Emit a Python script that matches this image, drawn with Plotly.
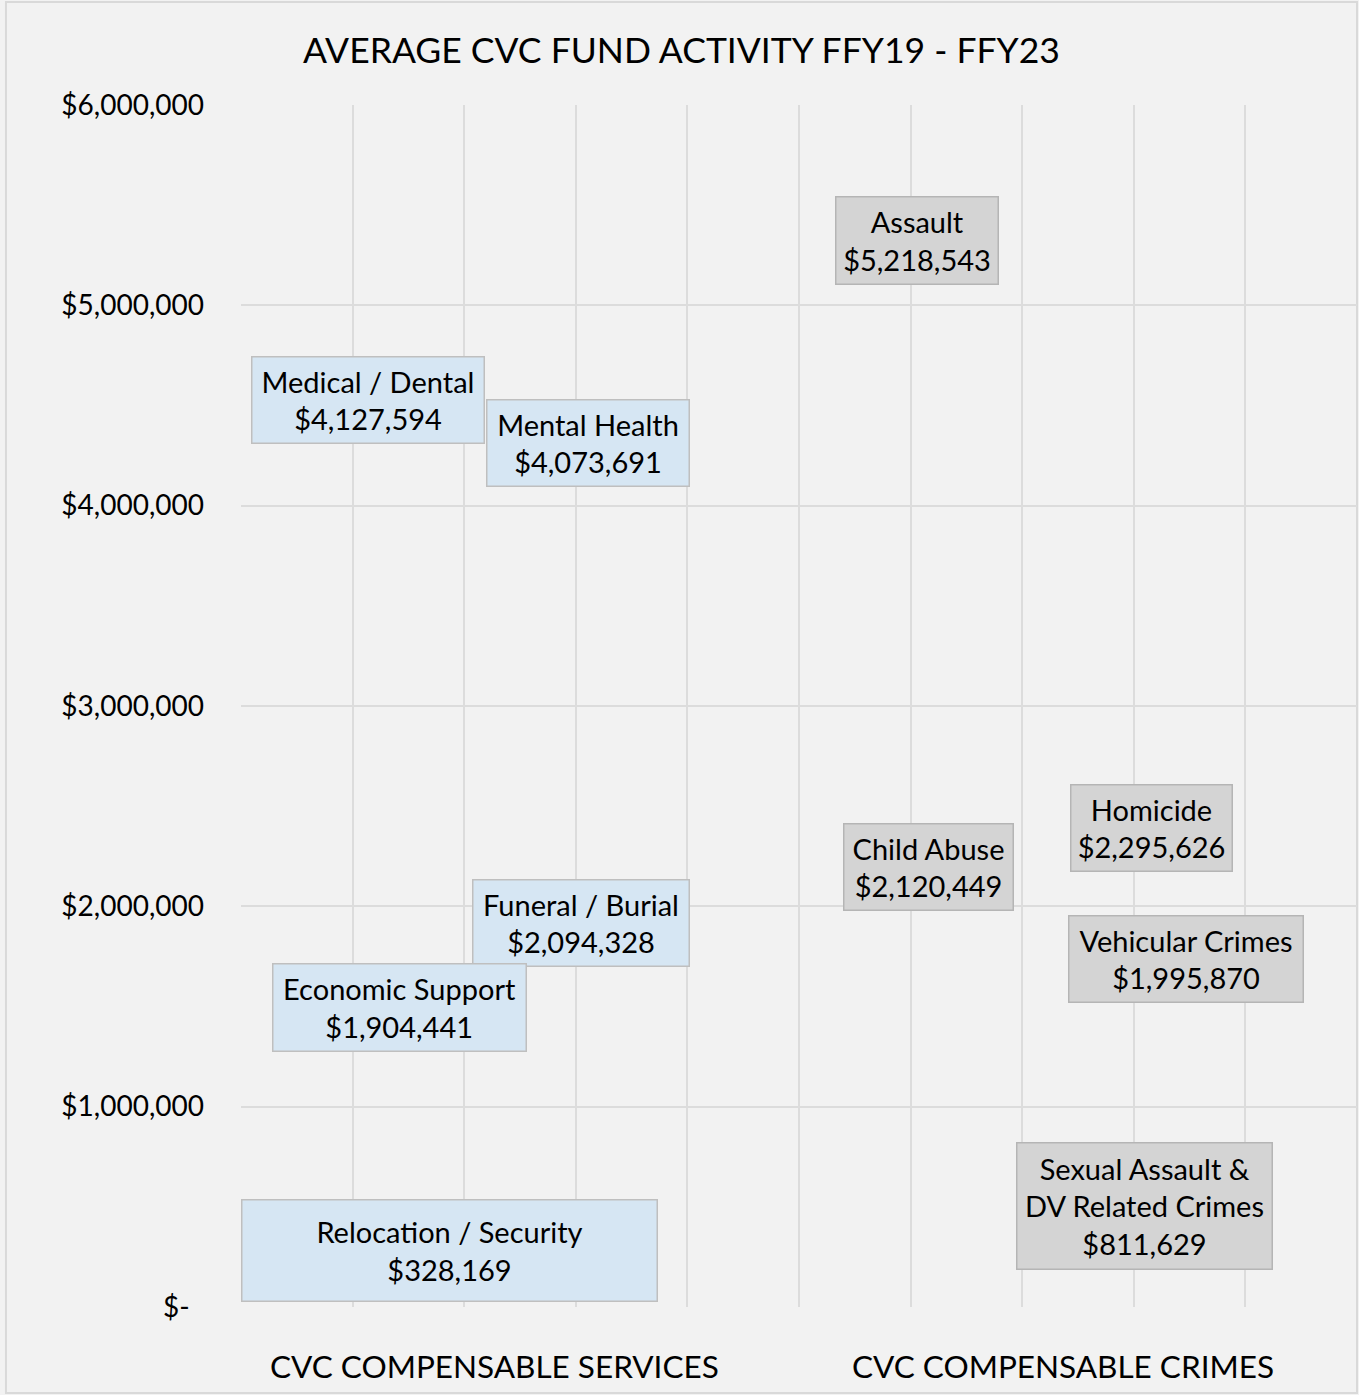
import plotly.graph_objects as go

# ---- data ----
labels = ["Medical / Dental", "Mental Health", "Funeral / Burial", "Economic Support",
          "Relocation / Security", "Assault", "Child Abuse", "Homicide",
          "Vehicular Crimes", "Sexual Assault &<br>DV Related Crimes"]
values = [4127594, 4073691, 2094328, 1904441, 328169, 5218543, 2120449, 2295626, 1995870, 811629]
groups = ["services"] * 5 + ["crimes"] * 5
x_pos = [1.14, 3.11, 3.05, 1.42, 1.87, 6.06, 6.16, 8.16, 8.47, 8.10]

y_tickvals = [0, 1000000, 2000000, 3000000, 4000000, 5000000, 6000000]
y_ticktext = ["$-  ", "$1,000,000", "$2,000,000", "$3,000,000", "$4,000,000", "$5,000,000", "$6,000,000"]

title_text = "AVERAGE CVC FUND ACTIVITY FFY19 - FFY23"
cat_labels = ["CVC COMPENSABLE SERVICES", "CVC COMPENSABLE CRIMES"]

# ---- layout / styling (positions of dragged labels) ----
label_yshift = [80.6, 48.4, -35.1, -82.5, -9.7, 20.6, 15.7, 19.6, -52.3, -61.1]
box_w = [231, 201, 215, 252, 414, 161, 168, 160, 233, 254]
box_h = [85, 85, 85, 86, 100, 86, 85, 85, 85, 125]

FONT = "Lato, 'Open Sans', sans-serif"
fill = {"services": "#d6e6f3", "crimes": "#d4d4d4"}
edge = {"services": "#bfbfbf", "crimes": "#b5b5b5"}

fig = go.Figure()
fig.add_trace(go.Scatter(x=x_pos, y=values, mode="markers",
                         marker=dict(size=4, color="#f2f2f2", opacity=0),
                         hoverinfo="skip", showlegend=False))

annotations = []
for lab, v, g, xp, ys, w, h in zip(labels, values, groups, x_pos, label_yshift, box_w, box_h):
    annotations.append(dict(
        x=xp, y=v, xref="x", yref="y", yshift=ys,
        text=f"{lab}<br>${v:,.0f}", showarrow=False,
        font=dict(family=FONT, size=29, color="#000000"),
        bgcolor=fill[g], bordercolor=edge[g], borderwidth=1.5, borderpad=0,
        width=w, height=h, align="center", valign="middle"))

# category labels under the plot
annotations.append(dict(x=2.27, y=-0.049, xref="x", yref="paper", yanchor="middle",
                        text=cat_labels[0], showarrow=False,
                        font=dict(family=FONT, size=31.5, color="#000000")))
annotations.append(dict(x=7.365, y=-0.049, xref="x", yref="paper", yanchor="middle",
                        text=cat_labels[1], showarrow=False,
                        font=dict(family=FONT, size=31.5, color="#000000")))
annotations.append(dict(x=0.395, y=1.0458, xref="paper", yref="paper", yanchor="middle",
                        text=title_text, showarrow=False,
                        font=dict(family=FONT, size=35.5, color="#000000")))

fig.update_layout(
    width=1359, height=1395,
    margin=dict(l=241, r=2, t=105, b=88),
    paper_bgcolor="#f2f2f2", plot_bgcolor="#f2f2f2",
    font=dict(family=FONT, size=28, color="#000000"),
    annotations=annotations,
    shapes=[dict(type="rect", xref="paper", yref="paper",
                 x0=-0.2106, x1=1.0, y0=-0.0715, y1=1.0857,
                 line=dict(color="#d9d9d9", width=2), fillcolor="rgba(0,0,0,0)", layer="below")],
    showlegend=False,
)
fig.update_xaxes(range=[0, 10], dtick=1, tick0=0, showticklabels=False,
                 showgrid=True, gridcolor="#dcdcdc", gridwidth=1.5,
                 zeroline=False, showline=False, fixedrange=True)
fig.update_yaxes(range=[0, 6000000], tickvals=y_tickvals, ticktext=y_ticktext,
                 showgrid=True, gridcolor="#dcdcdc", gridwidth=1.5,
                 zeroline=False, showline=False, ticks="", ticklabelstandoff=36,
                 tickfont=dict(family=FONT, size=28, color="#000000"), fixedrange=True)

fig.write_html("out.html", config={"displayModeBar": False},
               post_script="document.body.style.margin='0';document.body.style.overflow='hidden';")
